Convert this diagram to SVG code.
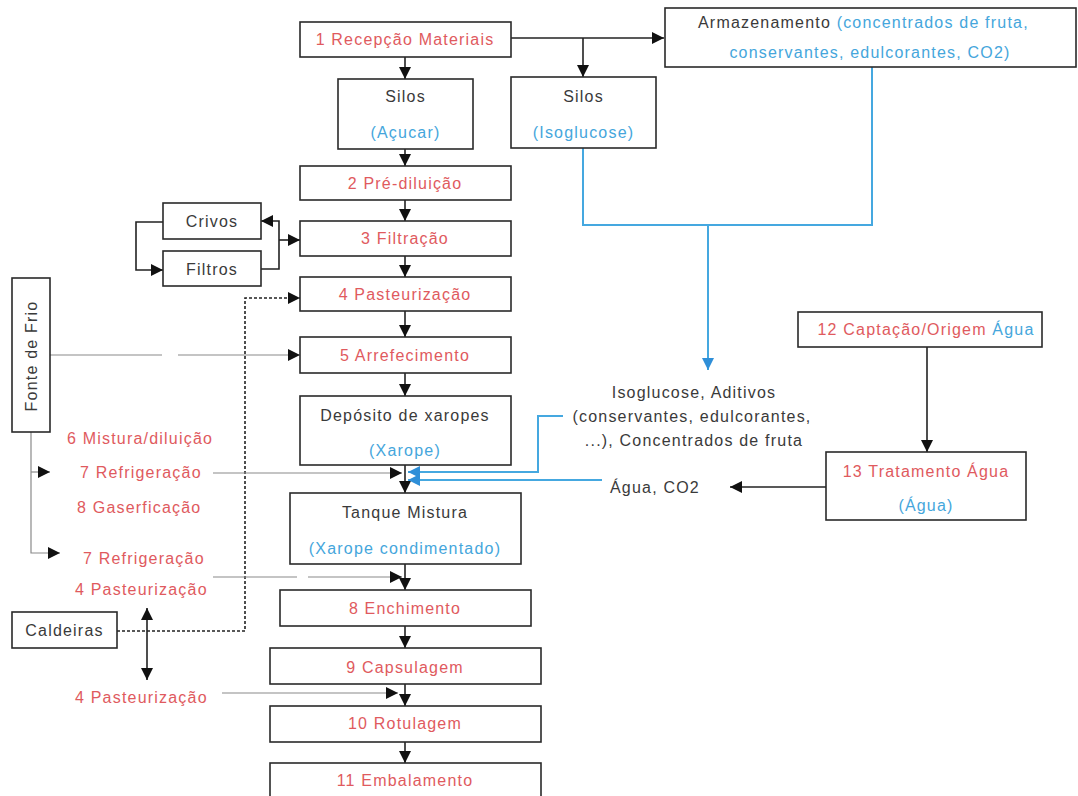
<svg xmlns="http://www.w3.org/2000/svg" width="1078" height="796" viewBox="0 0 1078 796">
<style>
.bx{fill:#fff;stroke:#2a2a2a;stroke-width:1.6}
.t{font-family:"Liberation Sans",Arial,sans-serif;font-size:16px;letter-spacing:1.2px}
.m{text-anchor:middle}
.r{fill:#e05a5e}
.b{fill:#45a6dc}
.k{fill:#3a3a3a}
.c{fill:none;stroke:#222;stroke-width:1.6}
.g{fill:none;stroke:#8a8a8a;stroke-width:1.2}
.d{fill:none;stroke:#222;stroke-width:1.6;stroke-dasharray:3,2}
.bl{fill:none;stroke:#45a8e0;stroke-width:2}
</style>
<defs>
<marker id="ak" markerUnits="userSpaceOnUse" markerWidth="12" markerHeight="12" viewBox="0 0 10 10" refX="10" refY="5" orient="auto-start-reverse"><path d="M0,0 L10,5 L0,10 z" fill="#111"/></marker>
<marker id="ab" markerUnits="userSpaceOnUse" markerWidth="12" markerHeight="12" viewBox="0 0 10 10" refX="10" refY="5" orient="auto"><path d="M0,0 L10,5 L0,10 z" fill="#2f8fd8"/></marker>
</defs>
<rect width="1078" height="796" fill="#fff"/>

<g id="connectors">
<path class="c" d="M405,57 V79" marker-end="url(#ak)"/>
<path class="c" d="M511,38 H664" marker-end="url(#ak)"/>
<path class="c" d="M583,38 V77" marker-end="url(#ak)"/>
<path class="c" d="M405,149 V166" marker-end="url(#ak)"/>
<path class="c" d="M405,200 V221" marker-end="url(#ak)"/>
<path class="c" d="M405,256 V277" marker-end="url(#ak)"/>
<path class="c" d="M405,311 V337" marker-end="url(#ak)"/>
<path class="c" d="M405,373 V396" marker-end="url(#ak)"/>
<path class="c" d="M405,465 V493" marker-end="url(#ak)"/>
<path class="c" d="M405,564 V590" marker-end="url(#ak)"/>
<path class="c" d="M405,626 V648" marker-end="url(#ak)"/>
<path class="c" d="M405,684 V706" marker-end="url(#ak)"/>
<path class="c" d="M405,742 V763" marker-end="url(#ak)"/>
<path class="c" d="M163,222 H136 V270 H163" marker-end="url(#ak)"/>
<path class="c" d="M261,269 H279 V221 H261" marker-end="url(#ak)"/>
<path class="c" d="M279,240 H300" marker-end="url(#ak)"/>
<path class="d" d="M117,631 H245 V298 H300" marker-end="url(#ak)"/>
<path class="g" d="M50,355 H162"/>
<path class="g" d="M178,355 H300" marker-end="url(#ak)"/>
<path class="g" d="M31,432 V553 H60" marker-end="url(#ak)"/>
<path class="g" d="M31,472 H50" marker-end="url(#ak)"/>
<path class="g" d="M213,473 H402" marker-end="url(#ak)"/>
<path class="g" d="M213,577 H297"/>
<path class="g" d="M308,577 H402" marker-end="url(#ak)"/>
<path class="g" d="M222,693 H398" marker-end="url(#ak)"/>
<path class="c" d="M147,608 V680" marker-start="url(#ak)" marker-end="url(#ak)"/>
<path class="bl" d="M583,148 V225 H872 V67"/>
<path class="bl" d="M708,225 V370" marker-end="url(#ab)"/>
<path class="bl" d="M563,416 H538 V472 H408" marker-end="url(#ab)"/>
<path class="bl" d="M602,480 H408" marker-end="url(#ab)"/>
<path class="c" d="M927,347 V452" marker-end="url(#ak)"/>
<path class="c" d="M826,487 H730" marker-end="url(#ak)"/>
</g>

<g id="n1"><rect class="bx" x="300" y="22" width="211" height="35"/><text class="t m r" x="405" y="45">1 Recepção Materiais</text></g>
<g id="silos-acucar"><rect class="bx" x="338" y="79" width="135" height="70"/><text class="t m k" x="405.5" y="102">Silos</text><text class="t m b" x="405.5" y="138">(Açucar)</text></g>
<g id="silos-isoglucose"><rect class="bx" x="511" y="77" width="145" height="71"/><text class="t m k" x="583.5" y="102">Silos</text><text class="t m b" x="583.5" y="138">(Isoglucose)</text></g>
<g id="armazenamento"><rect class="bx" x="665" y="8" width="411" height="59"/><text class="t" x="698" y="28"><tspan class="k">Armazenamento</tspan><tspan class="b"> (concentrados de fruta,</tspan></text><text class="t m b" x="870" y="58">conservantes, edulcorantes, CO2)</text></g>
<g id="n2"><rect class="bx" x="300" y="166" width="211" height="34"/><text class="t m r" x="405" y="188.5">2 Pré-diluição</text></g>
<g id="n3"><rect class="bx" x="300" y="221" width="211" height="35"/><text class="t m r" x="405" y="243.5">3 Filtração</text></g>
<g id="n4"><rect class="bx" x="300" y="277" width="211" height="34"/><text class="t m r" x="405" y="299.5">4 Pasteurização</text></g>
<g id="n5"><rect class="bx" x="300" y="337" width="211" height="36"/><text class="t m r" x="405" y="360.5">5 Arrefecimento</text></g>
<g id="deposito"><rect class="bx" x="300" y="396" width="211" height="69"/><text class="t m k" x="405" y="420.5">Depósito de xaropes</text><text class="t m b" x="405" y="455.5">(Xarope)</text></g>
<g id="tanque"><rect class="bx" x="290" y="493" width="231" height="71"/><text class="t m k" x="405" y="517.5">Tanque Mistura</text><text class="t m b" x="405" y="553.5">(Xarope condimentado)</text></g>
<g id="n8"><rect class="bx" x="280" y="590" width="251" height="36"/><text class="t m r" x="405" y="613.5">8 Enchimento</text></g>
<g id="n9"><rect class="bx" x="270" y="648" width="271" height="36"/><text class="t m r" x="405" y="672.5">9 Capsulagem</text></g>
<g id="n10"><rect class="bx" x="270" y="706" width="271" height="36"/><text class="t m r" x="405" y="728.5">10 Rotulagem</text></g>
<g id="n11"><rect class="bx" x="270" y="763" width="271" height="40"/><text class="t m r" x="405" y="785.5">11 Embalamento</text></g>
<g id="crivos"><rect class="bx" x="163" y="203" width="98" height="36"/><text class="t m k" x="212" y="226.5">Crivos</text></g>
<g id="filtros"><rect class="bx" x="163" y="251" width="98" height="35"/><text class="t m k" x="212" y="274.5">Filtros</text></g>
<g id="fonte-frio"><rect class="bx" x="12" y="278" width="38" height="154"/><text class="t m k" transform="translate(36.5,356) rotate(-90)">Fonte de Frio</text></g>
<g id="caldeiras"><rect class="bx" x="12" y="612" width="105" height="36"/><text class="t m k" x="64.5" y="635.5">Caldeiras</text></g>
<g id="n12"><rect class="bx" x="798" y="312" width="244" height="35"/><text class="t m" x="926" y="335"><tspan class="r">12 Captação/Origem</tspan><tspan class="b"> Água</tspan></text></g>
<g id="n13"><rect class="bx" x="826" y="452" width="200" height="68"/><text class="t m r" x="926" y="476.5">13 Tratamento Água</text><text class="t m b" x="926" y="510.5">(Água)</text></g>

<g id="labels">
<text class="t r" x="67" y="443.5">6 Mistura/diluição</text>
<text class="t r" x="80" y="477.5">7 Refrigeração</text>
<text class="t r" x="77" y="512.5">8 Gaserficação</text>
<text class="t r" x="83" y="563.5">7 Refrigeração</text>
<text class="t r" x="75" y="594.5">4 Pasteurização</text>
<text class="t r" x="75" y="702.5">4 Pasteurização</text>
<text class="t m k" x="694" y="397.5">Isoglucose, Aditivos</text>
<text class="t m k" x="692" y="421.5">(conservantes, edulcorantes,</text>
<text class="t m k" x="694" y="445.5">...), Concentrados de fruta</text>
<text class="t k" x="610" y="492.5">Água, CO2</text>
</g>
</svg>
